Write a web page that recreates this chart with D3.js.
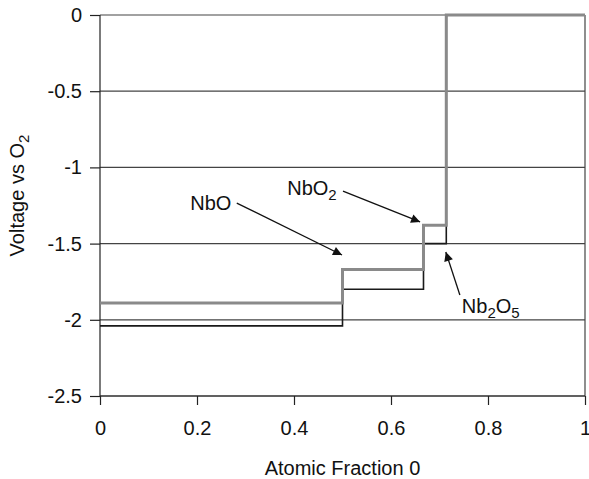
<!DOCTYPE html>
<html>
<head>
<meta charset="utf-8">
<script src="https://cdn.jsdelivr.net/npm/d3@7"></script>
<style>
  body { margin: 0; background: #fff; }
  svg text { font-family: "Liberation Sans", Arial, sans-serif; fill: #111; }
</style>
</head>
<body>
<div id="chart"></div>
<script>
// step data
const grayX = [0, 0.5, 0.5, 0.667, 0.667, 0.714, 0.714, 1];
const grayY = [-1.89, -1.89, -1.67, -1.67, -1.38, -1.38, 0, 0];
const blackX = [0, 0.5, 0.5, 0.667, 0.667, 0.714, 0.714, 1];
const blackY = [-2.04, -2.04, -1.80, -1.80, -1.50, -1.50, 0, 0];

const xTicks = [0, 0.2, 0.4, 0.6, 0.8, 1];
const yTicks = [0, -0.5, -1, -1.5, -2, -2.5];

// labels: text anchor and arrow start/tip, in data units
const labelNames = ["NbO", "NbO2", "Nb2O5"];
const labelPos = [[0.186, -1.28], [0.386, -1.18], [0.746, -1.955]];
const arrowFrom = [[0.282, -1.234], [0.501, -1.155], [0.742, -1.837]];
const arrowTo = [[0.499, -1.575], [0.660, -1.358], [0.713, -1.555]];

const width = 589, height = 479;
const margin = { top: 15, right: 4, bottom: 83, left: 100 };

const svg = d3.select("#chart").append("svg")
    .attr("width", width)
    .attr("height", height);

const x = d3.scaleLinear().domain([0, 1]).range([margin.left, width - margin.right]);
const y = d3.scaleLinear().domain([-2.5, 0]).range([height - margin.bottom, margin.top]);

svg.append("defs").append("marker")
    .attr("id", "head")
    .attr("viewBox", "0 0 10 10")
    .attr("refX", 10).attr("refY", 5)
    .attr("markerUnits", "userSpaceOnUse")
    .attr("markerWidth", 12).attr("markerHeight", 9)
    .attr("orient", "auto")
    .append("path")
    .attr("d", "M0,0 L10,5 L0,10 Z")
    .attr("fill", "#111");

// horizontal grid
svg.append("g").selectAll("line")
    .data(yTicks)
    .join("line")
    .attr("x1", x(0)).attr("x2", x(1))
    .attr("y1", d => y(d)).attr("y2", d => y(d))
    .attr("stroke", "#444").attr("stroke-width", 1.2);

// right frame
svg.append("line")
    .attr("x1", x(1)).attr("x2", x(1))
    .attr("y1", y(0)).attr("y2", y(-2.5))
    .attr("stroke", "#444").attr("stroke-width", 1.2);

// axes (plain hyphen for negatives, like the original)
const fmt = d => String(d);
const yAxis = svg.append("g")
    .attr("transform", `translate(${x(0)},0)`)
    .call(d3.axisLeft(y).tickValues(yTicks).tickSize(10).tickPadding(8).tickFormat(fmt));
const xAxis = svg.append("g")
    .attr("transform", `translate(0,${y(-2.5)})`)
    .call(d3.axisBottom(x).tickValues(xTicks).tickSize(9).tickPadding(16).tickFormat(fmt));

[xAxis, yAxis].forEach(a => {
    a.select(".domain").attr("stroke", "#222").attr("stroke-width", 1.2);
    a.selectAll(".tick line").attr("stroke", "#222").attr("stroke-width", 1.2);
    a.selectAll(".tick text").attr("font-size", 20).attr("fill", "#111")
        .style("font-family", "'Liberation Sans', Arial, sans-serif");
});
yAxis.select(".domain").attr("d", `M0,${y(0)}V${y(-2.5)}`);
xAxis.select(".domain").attr("d", `M${x(0)},0H${x(1)}`);

// series
const line = d3.line().x(d => x(d[0])).y(d => y(d[1]));
svg.append("path")
    .datum(d3.zip(blackX, blackY))
    .attr("d", line)
    .attr("fill", "none")
    .attr("stroke", "#1a1a1a")
    .attr("stroke-width", 1.6);
svg.append("path")
    .datum(d3.zip(grayX, grayY))
    .attr("d", line)
    .attr("fill", "none")
    .attr("stroke", "#8a8a8a")
    .attr("stroke-width", 3);

// annotation arrows
svg.append("g").selectAll("line")
    .data(d3.range(labelNames.length))
    .join("line")
    .attr("x1", i => x(arrowFrom[i][0])).attr("y1", i => y(arrowFrom[i][1]))
    .attr("x2", i => x(arrowTo[i][0])).attr("y2", i => y(arrowTo[i][1]))
    .attr("stroke", "#111").attr("stroke-width", 1.3)
    .attr("marker-end", "url(#head)");

// annotation text with subscripts
const labelText = svg.append("g").selectAll("text")
    .data(d3.range(labelNames.length))
    .join("text")
    .attr("x", i => x(labelPos[i][0]))
    .attr("y", i => y(labelPos[i][1]))
    .attr("font-size", 20);
labelText.each(function (i) {
    const t = d3.select(this);
    const parts = labelNames[i].match(/[A-Za-z]+|\d+/g);
    let down = false;
    parts.forEach(p => {
        const isNum = /\d/.test(p);
        const span = t.append("tspan").text(p);
        if (isNum) {
            span.attr("font-size", 15).attr("dy", down ? 0 : 5);
            down = true;
        } else {
            span.attr("dy", down ? -5 : 0);
            down = false;
        }
    });
});

// axis titles
svg.append("text")
    .attr("x", (x(0) + x(1)) / 2)
    .attr("y", 475)
    .attr("text-anchor", "middle")
    .attr("font-size", 20)
    .text("Atomic Fraction 0");

const yTitle = svg.append("text")
    .attr("transform", `translate(24,${(y(0) + y(-2.5)) / 2 - 10}) rotate(-90)`)
    .attr("text-anchor", "middle")
    .attr("font-size", 20);
yTitle.append("tspan").text("Voltage vs O");
yTitle.append("tspan").text("2").attr("font-size", 15).attr("dy", 5);
</script>
</body>
</html>
